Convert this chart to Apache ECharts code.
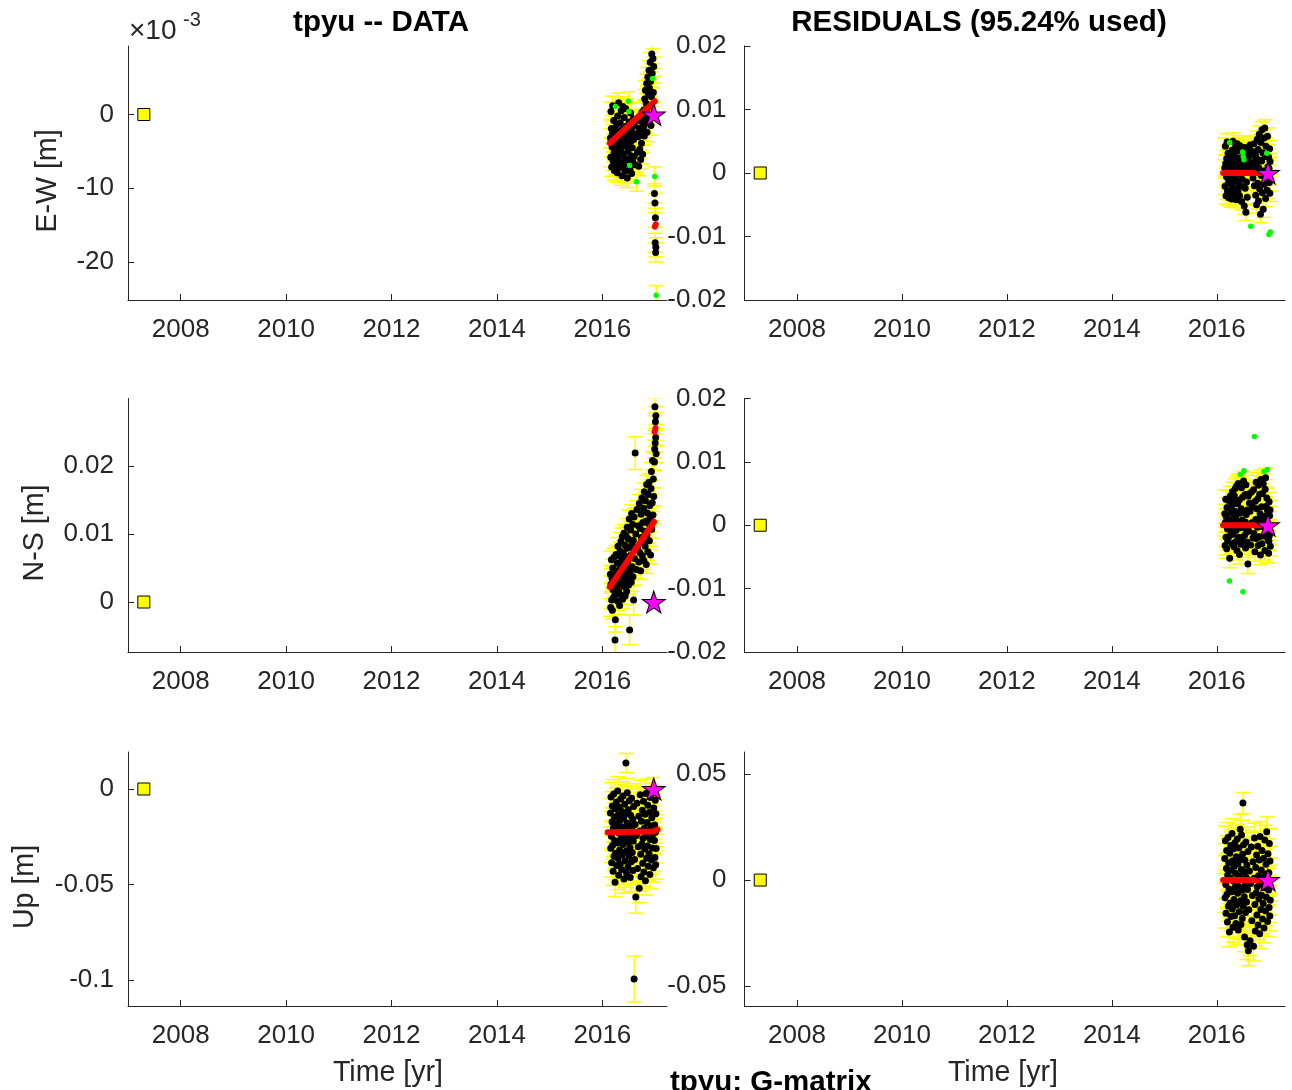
<!DOCTYPE html>
<html>
<head>
<meta charset="utf-8">
<script src="https://cdn.jsdelivr.net/npm/echarts@6/dist/echarts.min.js"></script>
<style>
html, body { margin: 0; padding: 0; background: #fff; }
#chart { width: 1292px; height: 1090px; }
</style>
</head>
<body>
<div id="chart"></div>
<script>
// Station tpyu: daily positions (decimal years), values in millimetres.
const epochs = [
  2016.152,2016.158,2016.163,2016.171,2016.176,2016.184,2016.189,2016.195,2016.203,2016.208,
  2016.214,2016.221,2016.227,2016.232,2016.240,2016.246,2016.251,2016.258,2016.265,2016.270,
  2016.277,2016.283,2016.290,2016.296,2016.301,2016.309,2016.315,2016.320,2016.327,2016.334,
  2016.339,2016.346,2016.352,2016.358,2016.365,2016.371,2016.377,2016.384,2016.390,2016.396,
  2016.403,2016.409,2016.415,2016.422,2016.428,2016.433,2016.441,2016.447,2016.453,2016.460,
  2016.466,2016.472,2016.479,2016.485,2016.491,2016.498,2016.504,2016.510,2016.517,2016.523,
  2016.529,2016.536,2016.542,2016.548,2016.555,2016.561,2016.567,2016.574,2016.580,2016.586,
  2016.593,2016.602,2016.611,2016.622,2016.634,2016.645,2016.657,2016.668,2016.679,2016.690,
  2016.700,2016.709,2016.717,2016.726,2016.734,2016.742,2016.750,2016.757,2016.765,2016.772,
  2016.780,2016.787,2016.795,2016.802,2016.810,2016.817,2016.825,2016.832,2016.840,2016.847,
  2016.855,2016.862,2016.870,2016.877,2016.885,2016.892,2016.900,2016.907,2016.915,2016.922,
  2016.930,2016.937,2016.945,2016.952,2016.960,2016.967,2016.975,
  2016.988,2016.993,2016.997,2017.002,2017.006,2017.011,2017.015,2017.020
];

// East-west position (mm)
const ewObsMm = [
  -3.2,-5.8,0.4,-1.9,-7.1,-4.4,-2.6,1.2,-6.3,-3.9,
  -0.8,-5.2,-7.6,-2.1,-4.8,1.1,-3.5,-6.8,-1.4,-5.5,
  -2.9,-7.9,-0.2,-4.1,-6.0,1.6,-3.0,-5.0,-2.3,-7.2,
  -1.1,-4.6,-6.6,0.5,-3.7,-8.3,-2.0,-5.3,1.1,-4.0,
  -6.9,-2.7,-0.4,-5.9,-3.3,-7.7,0.8,-4.3,-1.6,-6.2,
  -3.1,-8.6,-2.4,-5.0,1.8,-3.8,0.4,-1.0,-6.9,-7.4,
  -2.2,0.2,-5.6,-3.6,-8.0,-1.8,-4.5,-6.4,-2.8,-0.6,
  -3.4,-5.7,-1.5,-6.8,-2.6,-9.1,-0.7,-5.1,-3.0,-7.0,
  -1.9,-4.7,-2.4,-6.1,-0.9,-3.9,0.3,-2.2,-5.4,-1.2,
  -1.8,0.6,-2.9,2.1,-0.5,3.3,-1.2,1.5,4.2,-2.4,
  0.9,5.1,2.8,-0.1,6.0,3.6,1.2,7.1,4.5,-1.5,
  2.4,8.2,5.6,4.9,7.6,3.0,6.5,
  -10.7,-8.4,-12.0,-17.4,-14.0,-18.7,-18.0,-24.5
];
// East-west residuals (mm)
const ewResidMm = [
  0.8,-2.1,4.2,1.5,-3.6,-0.6,2.3,4.9,-2.8,-0.2,
  3.1,-1.5,-3.9,1.9,-1.0,4.8,0.4,-3.0,2.6,-1.7,
  1.0,-4.1,3.6,-0.3,-2.2,5.0,0.9,-1.2,1.8,-3.3,
  2.9,-0.7,-2.6,4.1,0.2,-4.2,2.0,-1.3,4.6,0.1,
  -2.9,1.3,3.5,-1.9,0.7,-3.6,4.3,-0.2,2.4,-2.1,
  0.9,-4.5,1.6,-1.0,3.3,0.3,2.6,3.8,2.1,-5.2,
  1.2,4.0,-2.4,0.6,-6.2,2.7,-1.4,3.1,-3.8,1.5,
  2.2,0.5,3.9,1.1,4.4,-8.4,2.8,0.2,3.4,-0.8,
  1.7,4.6,-2.0,0.9,3.0,-3.5,2.5,-5.0,1.4,5.3,
  -1.6,3.7,-4.4,0.8,6.1,-2.5,2.0,-6.5,4.8,-0.4,
  1.9,6.8,-3.1,3.2,-5.7,0.3,5.5,-1.8,7.1,2.6,
  -4.0,4.2,0.1,3.1,-2.7,5.8,1.0,
  2.5,-9.7,0.7,-1.5,3.8,-3.2,1.8,-9.3
];
const ewOutliers = [15, 54, 56, 58, 75, 113, 118, 124];

// North-south position (mm)
const nsObsMm = [
  4.1,-0.8,2.6,6.2,0.3,3.5,-1.2,5.0,1.8,0.6,
  3.9,6.6,0.9,2.2,-5.6,-2.6,3.1,7.0,1.2,4.6,
  2.0,5.7,0.1,8.2,3.3,1.5,6.8,4.0,-0.5,7.5,
  2.7,5.3,8.9,1.0,6.1,3.8,9.6,0.4,4.9,7.2,
  2.3,10.1,5.5,3.0,8.4,0.9,6.7,9.8,4.2,1.6,
  7.9,11.0,3.6,6.0,9.3,2.5,5.1,12.2,-4.1,8.0,
  4.4,10.6,6.9,2.9,13.0,8.6,5.2,11.4,3.7,9.1,
  0.3,12.5,6.4,21.9,10.0,4.8,13.6,8.1,11.2,5.9,
  14.5,7.3,10.8,4.6,12.9,9.5,15.3,6.8,11.7,8.8,
  13.8,6.1,16.2,10.4,8.2,14.9,11.9,5.5,17.3,9.9,
  13.1,7.4,15.8,11.5,17.6,9.0,14.2,12.4,6.9,16.7,
  19.2,10.7,14.6,20.8,12.8,18.1,15.5,
  20.6,22.5,28.7,23.4,26.5,24.2,27.4,21.8
];
// North-south residuals (mm)
const nsResidMm = [
  1.8,-3.2,0.4,4.1,-1.9,1.2,-3.7,2.8,-0.6,-2.4,
  1.0,3.9,-1.8,-0.5,-8.8,-5.2,0.2,4.6,-1.5,2.0,
  -0.7,3.1,-2.9,5.3,0.6,-1.4,3.8,1.1,-3.4,4.7,
  -0.9,2.2,5.8,-2.6,1.5,-0.8,6.2,-4.0,0.7,3.4,
  -2.1,6.6,0.3,-1.9,4.0,-4.6,1.9,8.0,-0.4,-3.0,
  2.6,5.9,-2.4,0.8,4.4,-10.5,-0.3,7.0,8.6,2.1,
  -1.6,4.8,0.5,-3.6,6.4,1.7,-1.1,4.9,-2.7,2.4,
  -6.1,4.6,-0.9,3.5,2.2,-3.1,5.2,0.4,2.9,-2.0,
  5.6,-1.3,14.0,-4.2,3.8,0.9,6.8,-2.1,2.6,-0.3,
  4.2,-3.2,6.3,1.0,-1.8,4.9,1.8,-4.7,7.2,-0.2,
  2.9,-2.9,5.0,0.6,6.6,-1.7,8.5,1.4,-4.0,5.7,
  7.5,-0.8,3.0,4.3,8.8,2.3,-2.2,
  -4.4,-2.5,3.7,-1.6,1.5,-0.9,2.4,-3.3
];
const nsOutliers = [14, 47, 55, 58, 82, 106, 114];

// Vertical position (mm)
const upObsMm = [
  -12.5,-31.0,-4.2,-24.8,-38.6,-17.1,-8.9,-29.5,-43.0,-20.3,
  -2.6,-35.2,-14.7,-26.9,-48.8,-10.4,-33.7,-21.6,-6.8,-40.1,
  -18.2,-28.3,-1.1,-36.4,-13.5,-45.2,-23.0,-9.6,-31.9,-16.4,
  -39.5,-5.3,-26.1,-19.7,-42.3,-11.8,-34.6,-22.4,-3.7,-29.0,
  -15.2,-47.1,-25.5,-8.0,-37.7,-20.9,-12.9,13.6,-32.5,-44.1,
  -17.8,-2.0,-27.7,-40.8,-10.9,-23.8,-35.0,-6.1,-19.0,-30.6,
  -46.3,-13.8,-25.0,-38.1,-4.8,-21.1,-33.2,-15.9,-42.7,-27.2,
  -9.2,-99.5,-36.9,-18.6,-56.5,-24.3,-7.4,-41.6,-30.2,-14.3,
  -52.0,-22.0,-3.0,-34.1,-45.9,-16.9,-28.8,-11.1,-38.9,-25.8,
  -6.4,-43.5,-20.6,-31.4,-13.2,-48.0,-2.3,-24.6,-36.3,-17.5,
  -29.8,-8.5,-40.5,-21.9,-33.9,-12.2,-44.8,-26.4,-4.5,-19.4,
  -37.2,-15.0,-30.9,-1.5,-23.5,-41.2,-9.9,
  -27.0,-18.9,-35.8,-5.9,-22.7,-39.7,-13.0,-31.2
];
// Vertical residuals (mm)
const upResidMm = [
  10.2,-8.3,18.5,-2.1,-15.6,5.4,13.9,-6.7,-19.8,2.4,
  20.1,-12.4,8.0,-4.2,-24.5,12.6,-10.9,1.0,16.3,-17.2,
  4.6,-5.5,22.0,-13.7,9.1,-22.3,-0.4,14.8,-9.2,6.5,
  -16.8,17.6,-3.3,3.2,-20.5,11.0,-11.8,0.3,19.4,-6.2,
  7.8,-23.6,-2.9,15.1,-14.9,1.8,9.7,24.0,-9.8,-21.0,
  5.0,21.2,-4.8,-18.1,12.2,36.3,-12.3,16.7,3.9,-7.9,
  -26.8,9.3,-2.3,-15.3,18.0,1.2,-10.4,7.0,-30.5,-4.5,
  13.5,-33.4,-14.0,4.3,-28.6,-1.6,15.6,-19.2,-7.3,8.6,
  -31.2,0.9,19.8,-11.5,-24.0,5.9,-6.0,11.8,-16.5,-3.1,
  16.0,-21.2,2.0,-8.9,9.5,-25.3,20.6,-1.9,-13.9,4.8,
  -7.2,14.0,-18.4,0.5,-11.1,10.3,-22.6,-3.6,18.9,2.8,
  -14.6,7.4,-8.1,22.8,-0.9,-19.6,12.4,
  -4.7,3.4,-13.0,17.2,0.0,-17.0,9.0,-9.5
];
const upOutliers = [];

// One-sigma uncertainties (mm): typical value plus individual wider ones
const ewSigmaMm = { base: 1.3, wide: {} };
const nsSigmaMm = { base: 1.3, wide: { 14: 2.0, 15: 1.8, 58: 2.2, 70: 2.2, 73: 2.4 } };
const upSigmaMm = { base: 7.5, wide: { 47: 5.0, 71: 12.0, 74: 8.5 } };
const ewResidSigmaMm = { base: 1.3, wide: {} };
const nsResidSigmaMm = { base: 1.5, wide: {} };
const upResidSigmaMm = { base: 7.0, wide: { 55: 5.0 } };

// Fitted model (trend + offset), [year, mm]
const ewFitMm = [[2016.14, -3.9], [2016.995, 1.8]];
const ewFitAfterMm = [[2016.995, -15.2], [2017.012, -14.9]];
const nsFitMm = [[2016.14, 2.2], [2016.98, 11.8]];
const nsFitAfterMm = [[2016.99, 25.0], [2017.008, 25.6]];
const upFitMm = [[2016.10, -22.7], [2016.95, -22.3], [2017.05, -21.2]];
const residFitMm = [[2016.12, 0], [2016.975, 0]];

// Reference markers: first epoch (square) and reference epoch (star)
const firstEpoch = [2007.3, 0];
const refEpoch = [2016.975, 0];

// Axis ticks
const yearTicks = [2008, 2010, 2012, 2014, 2016];
const ewObsTicks = [-20, -10, 0];            // x 10^-3 m
const nsObsTicks = [0, 0.01, 0.02];
const upObsTicks = [-0.1, -0.05, 0];
const horizResidTicks = [-0.02, -0.01, 0, 0.01, 0.02];
const upResidTicks = [-0.05, 0, 0.05];

const FONT = '"Liberation Sans", Arial, Helvetica, sans-serif';
const AX = '#262626';
const STAR = 'path://M12,0 L14.7,8.28 L23.41,8.29 L16.37,13.42 L19.05,21.71 L12,16.6 L4.95,21.71 L7.63,13.42 L0.59,8.29 L9.3,8.28 Z';

const panels = [
  { grid: { left: 128, top: 46, width: 539, height: 254 }, xMax: 2017.226,
    y: [-25.15, 9.29], ticks: ewObsTicks, scale: 1, values: ewObsMm, sigma: ewSigmaMm,
    outliers: ewOutliers, showGreen: true, barsOnOutliers: true, fits: [ewFitMm, ewFitAfterMm], labelMargin: 14 },
  { grid: { left: 744.5, top: 46, width: 540.5, height: 254 }, xMax: 2017.3,
    y: [-0.02, 0.02], ticks: horizResidTicks, scale: 0.001, values: ewResidMm, sigma: ewResidSigmaMm,
    outliers: ewOutliers, showGreen: true, barsOnOutliers: false, fits: [residFitMm], labelMargin: 18 },
  { grid: { left: 128, top: 398.5, width: 539, height: 253.5 }, xMax: 2017.226,
    y: [-0.00735, 0.02993], ticks: nsObsTicks, scale: 0.001, values: nsObsMm, sigma: nsSigmaMm,
    outliers: nsOutliers, showGreen: false, barsOnOutliers: true, fits: [nsFitMm, nsFitAfterMm], labelMargin: 14 },
  { grid: { left: 744.5, top: 398.5, width: 540.5, height: 253.5 }, xMax: 2017.3,
    y: [-0.02, 0.02], ticks: horizResidTicks, scale: 0.001, values: nsResidMm, sigma: nsResidSigmaMm,
    outliers: nsOutliers, showGreen: true, barsOnOutliers: false, fits: [residFitMm], labelMargin: 18 },
  { grid: { left: 128, top: 752, width: 539, height: 254 }, xMax: 2017.226,
    y: [-0.1136, 0.01937], ticks: upObsTicks, scale: 0.001, values: upObsMm, sigma: upSigmaMm,
    outliers: upOutliers, showGreen: false, barsOnOutliers: true, fits: [upFitMm], labelMargin: 14 },
  { grid: { left: 744.5, top: 752, width: 540.5, height: 254 }, xMax: 2017.3,
    y: [-0.0594, 0.0604], ticks: upResidTicks, scale: 0.001, values: upResidMm, sigma: upResidSigmaMm,
    outliers: upOutliers, showGreen: false, barsOnOutliers: false, fits: [residFitMm], labelMargin: 18 }
];

const fmt = v => String(parseFloat(Number(v).toFixed(6)));

function errorBar(params, api) {
  const x = api.value(0);
  const top = api.coord([x, api.value(2)]);
  const bot = api.coord([x, api.value(1)]);
  const half = 7.5;
  const style = { stroke: '#ffff00', lineWidth: 1.5, fill: null };
  return {
    type: 'group',
    children: [
      { type: 'line', shape: { x1: top[0], y1: top[1], x2: bot[0], y2: bot[1] }, style },
      { type: 'line', shape: { x1: top[0] - half, y1: top[1], x2: top[0] + half, y2: top[1] }, style },
      { type: 'line', shape: { x1: bot[0] - half, y1: bot[1], x2: bot[0] + half, y2: bot[1] }, style }
    ]
  };
}

const option = {
  animation: false,
  backgroundColor: '#ffffff',
  grid: [], xAxis: [], yAxis: [], series: [],
  graphic: []
};

panels.forEach((p, k) => {
  option.grid.push(Object.assign({ containLabel: false }, p.grid));
  option.xAxis.push({
    gridIndex: k, type: 'value', min: 2007, max: p.xMax,
    axisLine: { show: true, onZero: false, lineStyle: { color: AX, width: 1 } },
    axisTick: { show: true, inside: true, length: 6, customValues: yearTicks, lineStyle: { color: AX } },
    axisLabel: { customValues: yearTicks, fontSize: 26, fontFamily: FONT, color: AX, margin: 17, formatter: fmt },
    splitLine: { show: false }
  });
  option.yAxis.push({
    gridIndex: k, type: 'value', min: p.y[0], max: p.y[1],
    axisLine: { show: true, onZero: false, lineStyle: { color: AX, width: 1 } },
    axisTick: { show: true, inside: true, length: 6, customValues: p.ticks, lineStyle: { color: AX } },
    axisLabel: { customValues: p.ticks, fontSize: 26, fontFamily: FONT, color: AX, margin: p.labelMargin,
                 padding: [6, 0, 0, 0], formatter: fmt },
    splitLine: { show: false }
  });

  const s = p.scale;
  const bars = [], black = [], green = [];
  epochs.forEach((t, i) => {
    const v = p.values[i] * s;
    const isOut = p.outliers.includes(i);
    if (p.barsOnOutliers || !isOut) {
      const sg = (p.sigma.wide[i] !== undefined ? p.sigma.wide[i] : p.sigma.base) * s;
      bars.push([t, v - sg, v + sg]);
    }
    if (p.showGreen && isOut) green.push([t, v]); else black.push([t, v]);
  });

  option.series.push({
    type: 'custom', xAxisIndex: k, yAxisIndex: k, renderItem: errorBar,
    data: bars, clip: true, silent: true, z: 1
  });
  option.series.push({
    type: 'scatter', xAxisIndex: k, yAxisIndex: k, data: black, symbol: 'circle', symbolSize: 7,
    itemStyle: { color: '#000000', opacity: 1 }, silent: true, z: 2
  });
  if (green.length) {
    option.series.push({
      type: 'scatter', xAxisIndex: k, yAxisIndex: k, data: green, symbol: 'circle', symbolSize: 5.5,
      itemStyle: { color: '#00ff00', opacity: 1 }, silent: true, z: 3
    });
  }
  p.fits.forEach(f => {
    option.series.push({
      type: 'line', xAxisIndex: k, yAxisIndex: k, data: f.map(d => [d[0], d[1] * s]),
      symbol: 'none', lineStyle: { color: '#ff0000', width: 6, cap: 'round', join: 'round' },
      silent: true, z: 4
    });
  });
  option.series.push({
    type: 'scatter', xAxisIndex: k, yAxisIndex: k, data: [firstEpoch], symbol: 'rect', symbolSize: 12,
    itemStyle: { color: '#ffff00', borderColor: '#000000', borderWidth: 1, opacity: 1 }, silent: true, z: 5
  });
  option.series.push({
    type: 'scatter', xAxisIndex: k, yAxisIndex: k, data: [refEpoch], symbol: STAR, symbolSize: [23, 22],
    itemStyle: { color: '#ff00ff', borderColor: '#000000', borderWidth: 1, opacity: 1 }, silent: true, z: 6
  });
});

function text(str, x, y, opts) {
  return Object.assign({
    type: 'text', x: x, y: y, silent: true, z: 10,
    style: Object.assign({
      text: str, x: 0, y: 0, fontFamily: FONT, fontSize: 28.6, fill: '#000000',
      align: 'center', verticalAlign: 'middle'
    }, opts && opts.style)
  }, opts && opts.el);
}

option.graphic = [
  text('tpyu -- DATA', 381, 23, { style: { fontWeight: 'bold', fontSize: 29.5 } }),
  text('RESIDUALS (95.24% used)', 979, 23, { style: { fontWeight: 'bold', fontSize: 29.5 } }),
  text('tpyu: G-matrix', 670, 1083, { style: { fontWeight: 'bold', fontSize: 29.5, align: 'left' } }),
  text('Time [yr]', 388, 1073, { style: { fill: AX } }),
  text('Time [yr]', 1003, 1073, { style: { fill: AX } }),
  text('E-W [m]', 48, 181, { style: { fill: AX }, el: { rotation: Math.PI / 2 } }),
  text('N-S [m]', 35, 533, { style: { fill: AX }, el: { rotation: Math.PI / 2 } }),
  text('Up [m]', 25, 887, { style: { fill: AX }, el: { rotation: Math.PI / 2 } }),
  text('\u00d710', 129, 31, { style: { fill: AX, fontSize: 28, align: 'left' } }),
  text('-3', 183, 20, { style: { fill: AX, fontSize: 20, align: 'left' } })
];

const chart = echarts.init(document.getElementById('chart'), null, { renderer: 'canvas' });
chart.setOption(option);
</script>
</body>
</html>
